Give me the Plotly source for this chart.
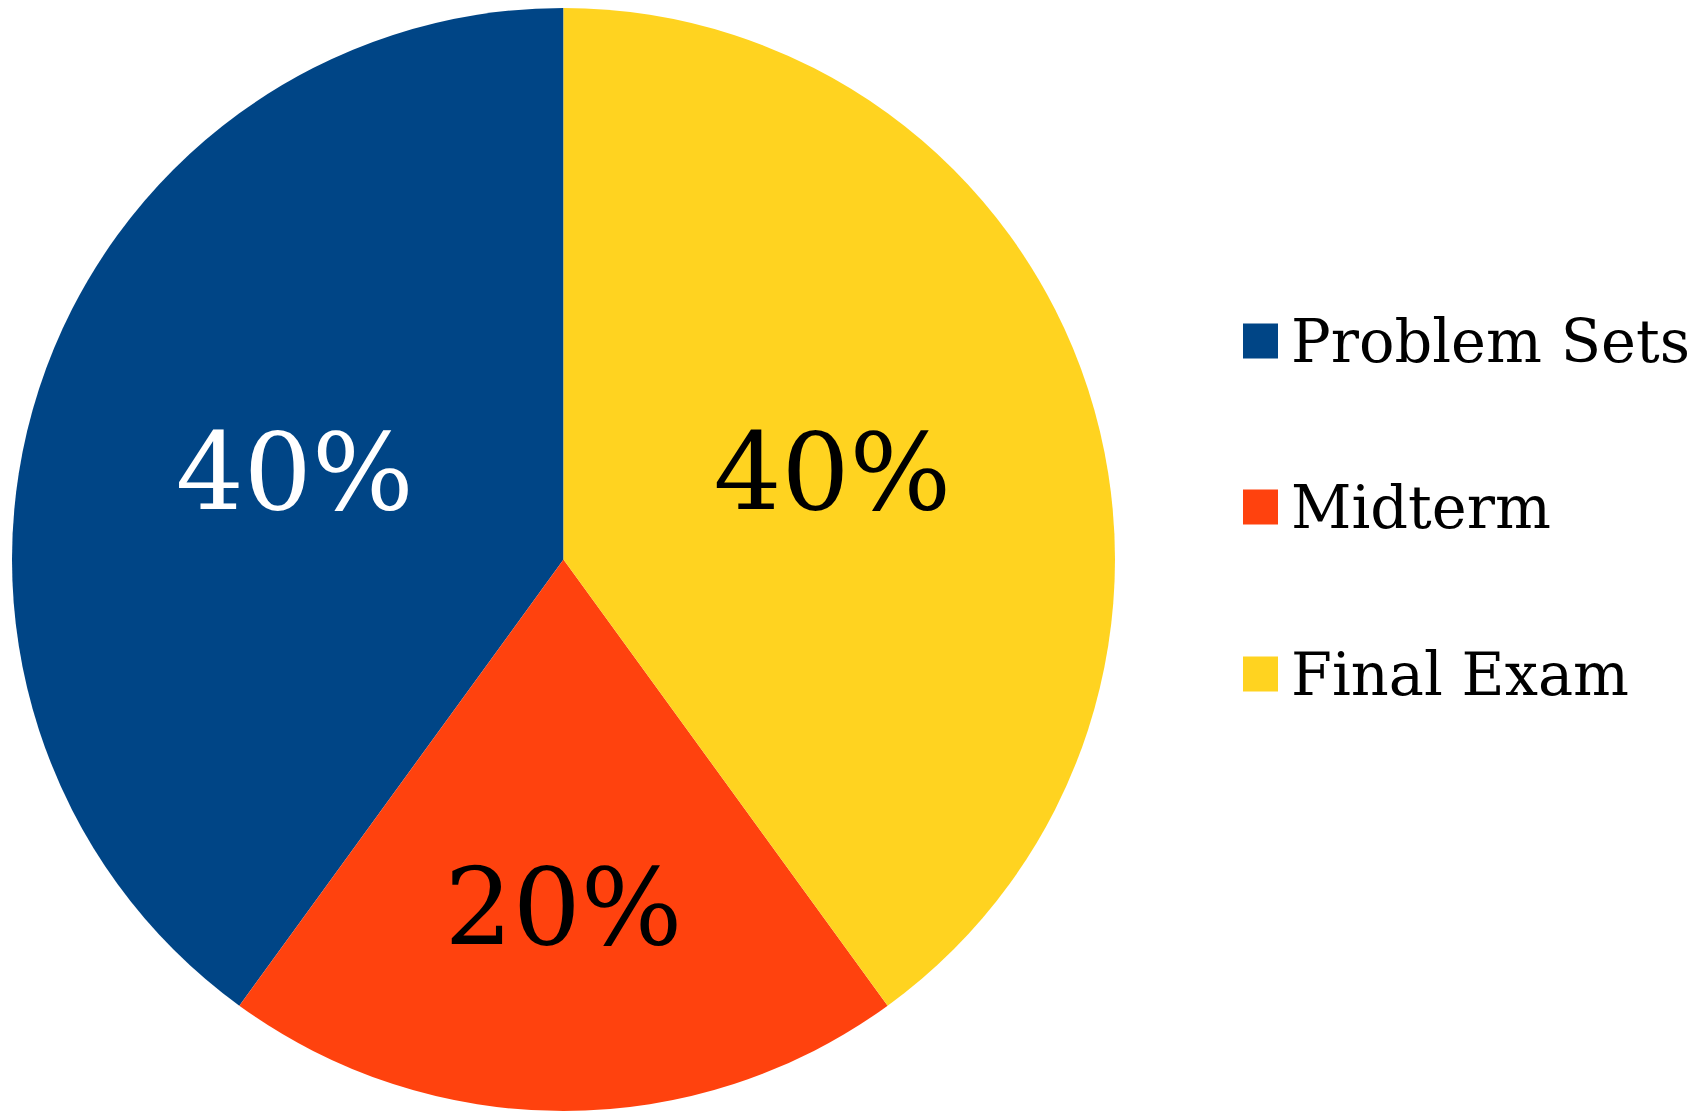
import plotly.graph_objects as go

labels = ["Problem Sets", "Midterm", "Final Exam"]
values = [40, 20, 40]
colors = ["#004586", "#ff420e", "#ffd320"]
text_colors = ["#ffffff", "#000000", "#000000"]

W, H = 1707, 1112
OFF = 8  # page body margin
FONT = "DejaVu Serif"

fig = go.Figure()
fig.add_trace(go.Pie(
    labels=labels,
    values=values,
    sort=False,
    direction="counterclockwise",
    rotation=-144,
    marker=dict(colors=colors, line=dict(width=0)),
    textinfo="percent",
    texttemplate="%{percent:.0%}",
    textposition="inside",
    insidetextorientation="horizontal",
    insidetextfont=dict(family=FONT, size=107, color=text_colors),
    showlegend=False,
    hoverinfo="label+percent",
    domain=dict(x=[(12 - OFF) / W, (1115 - OFF) / W],
                y=[1 - (1111 - OFF) / H, 1 - (8 - OFF) / H]),
))

# legend drawn as layout squares + texts
leg_x0 = 1243 - OFF
sq = 35
leg_y = [341 - OFF, 507 - OFF, 674 - OFF]
shapes = []
annotations = []
for i, (lab, col) in enumerate(zip(labels, colors)):
    yc = leg_y[i]
    shapes.append(dict(type="rect", xref="paper", yref="paper",
                       x0=leg_x0 / W, x1=(leg_x0 + sq) / W,
                       y0=1 - (yc + sq / 2) / H, y1=1 - (yc - sq / 2) / H,
                       fillcolor=col, line=dict(width=0)))
    annotations.append(dict(x=(1293 - OFF) / W, y=1 - yc / H, xref="paper", yref="paper",
                            text=lab, showarrow=False, xanchor="left", yanchor="middle",
                            xshift=-4,
                            font=dict(family=FONT, size=59, color="#000000")))

fig.update_layout(
    width=W, height=H,
    margin=dict(l=0, r=0, t=0, b=0),
    paper_bgcolor="white",
    plot_bgcolor="white",
    shapes=shapes,
    annotations=annotations,
    uniformtext=dict(minsize=107, mode="show"),
)

fig.write_html("out.html")
